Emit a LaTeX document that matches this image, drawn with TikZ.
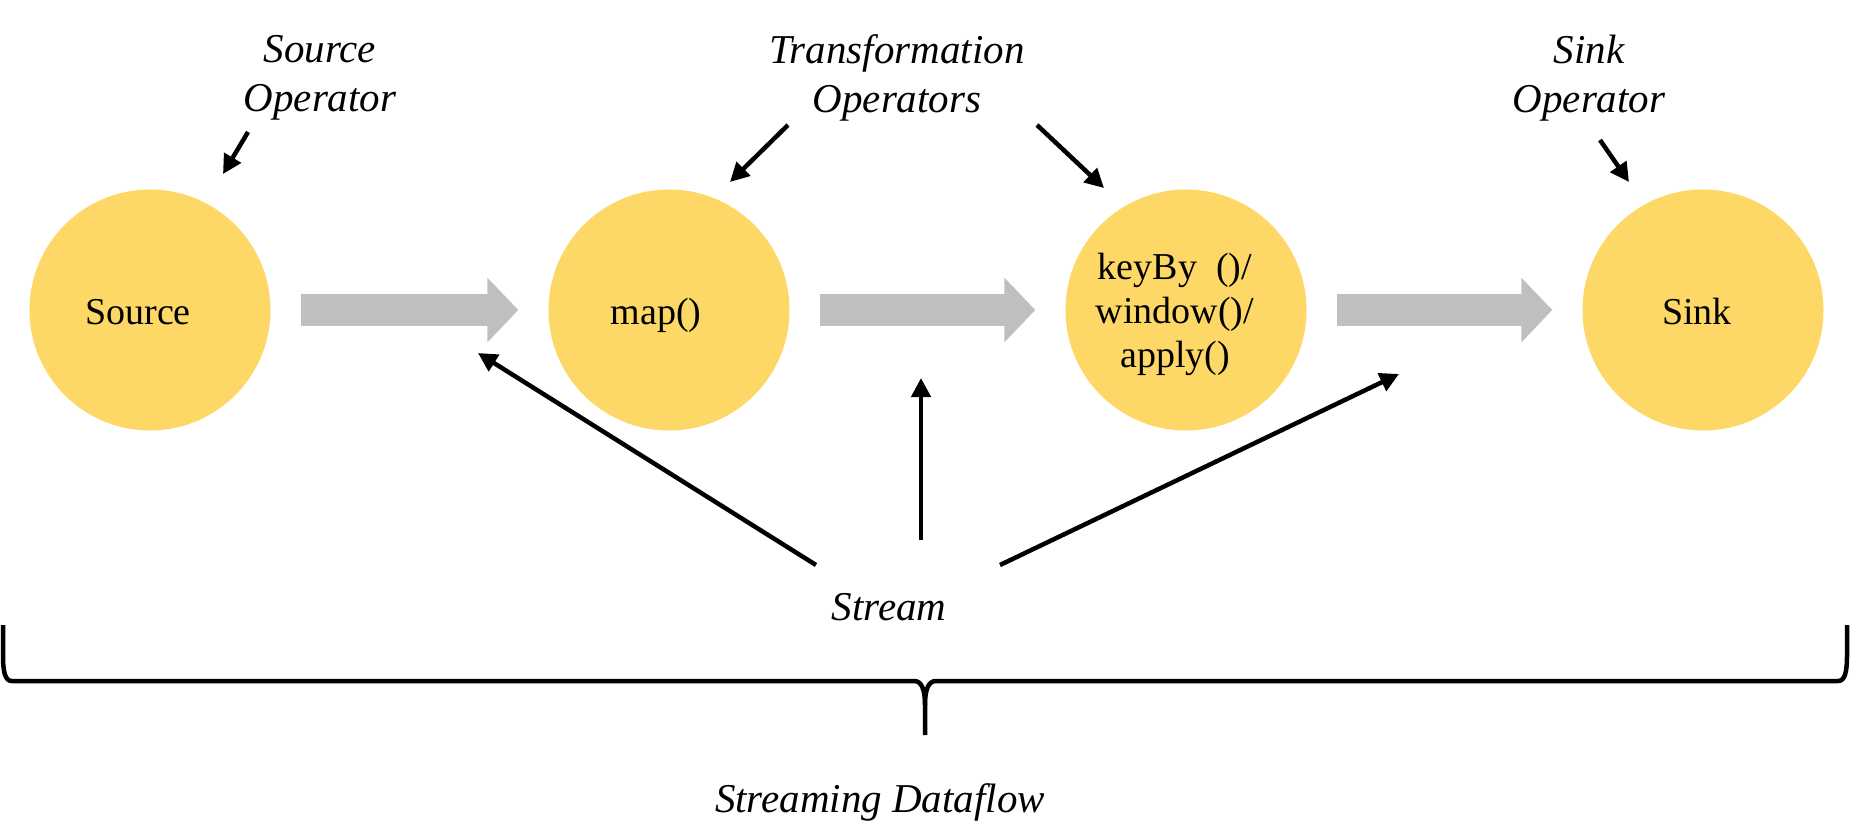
\documentclass[tikz,border=0pt]{standalone}
\usepackage{fontspec}
\setmainfont{Liberation Serif}
\usetikzlibrary{arrows.meta}
\definecolor{opyellow}{RGB}{253,216,102}
\definecolor{flowgray}{RGB}{191,191,191}
\begin{document}
\begin{tikzpicture}[x=1pt,y=-1pt,
  op/.style={circle, fill=opyellow, minimum size=241pt, inner sep=0pt,
    font=\fontsize{38}{44}\selectfont},
  oneline/.style={text height=28pt, text depth=0pt},
  lbl/.style={font=\itshape\fontsize{41}{49}\selectfont, align=center, inner sep=0pt},
  ptr/.style={line width=4.5pt, -{Triangle[length=19pt,width=19pt]}},
  flow/.style={draw=flowgray, line width=32pt, -{Triangle[length=31pt,width=63pt]}},
  bracestyle/.style={line width=4.5pt}]
\useasboundingbox (0,0) rectangle (1869,820);

% operator circles
\node[op,oneline] (src)  at (150,310)  {\hspace*{-24pt}Source};
\node[op,oneline] (map)  at (669,310)  {\hspace*{-26pt}map()};
\node[op] (kb) at (1186,310) {\hspace*{-22pt}\begin{tabular}{@{}c@{}}\rule{0pt}{41pt}keyBy~~()/\\window()/\\apply()\end{tabular}};
\node[op,oneline] (sink) at (1703,310) {\hspace*{-12pt}Sink};

% flow arrows
\draw[flow] ([xshift=30pt]src.east) -- ([xshift=-30pt]map.west);
\draw[flow] ([xshift=30pt]map.east) -- ([xshift=-30pt]kb.west);
\draw[flow] ([xshift=30pt]kb.east) -- ([xshift=-30pt]sink.west);

% top labels
\node[lbl] (srcop)  at (320,78)  {Source\\Operator};
\node[lbl] (trop)   at (897,78)  {Transformation\\Operators};
\node[lbl] (sinkop) at (1589,78) {Sink\\Operator};

\coordinate (a1s) at (248,132);  \coordinate (a1e) at (223,174);
\coordinate (a2s) at (788,125);  \coordinate (a2e) at (730,182);
\coordinate (a3s) at (1037,125); \coordinate (a3e) at (1104,188);
\coordinate (a4s) at (1600,140); \coordinate (a4e) at (1629,182);
\draw[ptr] (a1s) -- (a1e);
\draw[ptr] (a2s) -- (a2e);
\draw[ptr] (a3s) -- (a3e);
\draw[ptr] (a4s) -- (a4e);

% stream label and arrows
\node[font=\itshape\fontsize{41}{49}\selectfont, anchor=base, inner sep=0pt] (stream) at (889,620) {Stream};
\coordinate (s1) at (816,565); \coordinate (e1) at (478,353);
\coordinate (s2) at (921,540); \coordinate (e2) at (921,378);
\coordinate (s3) at (1000,565); \coordinate (e3) at (1399,374);
\draw[ptr] (s1) -- (e1);
\draw[ptr] (s2) -- (e2);
\draw[ptr] (s3) -- (e3);

% brace
\coordinate (bl) at (3,625);
\coordinate (br) at (1847,625);
\coordinate (bm) at (925,735);
\draw[bracestyle] (bl) -- (3,655) .. controls (3,672) and (5,681) .. (12,681) -- (914,681)
  .. controls (921,681) and (925,688) .. (925,705) -- (bm);
\draw[bracestyle] (br) -- (1847,655) .. controls (1847,672) and (1845,681) .. (1838,681) -- (936,681)
  .. controls (929,681) and (925,688) .. (925,705);

\node[font=\itshape\fontsize{41}{49}\selectfont, anchor=base, inner sep=0pt] (sdf) at (880,812) {Streaming Dataflow};
\end{tikzpicture}
\end{document}
